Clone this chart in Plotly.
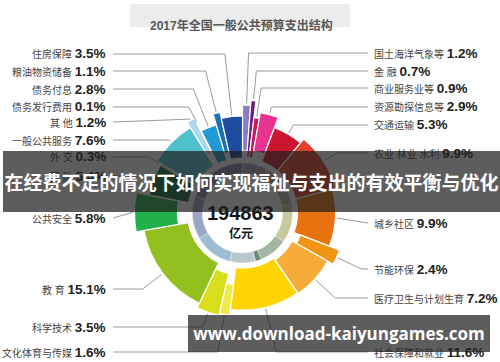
import numpy as np
import plotly.graph_objects as go

# ---------------- data ----------------
title_text = "2017年全国一般公共预算支出结构"
banner_text = "在经费不足的情况下如何实现福祉与支出的有效平衡与优化"
watermark_text = "www.download-kaiyungames.com"
total_value = "194863"
total_unit = "亿元"

categories = ["国土海洋气象等", "金 融", "商业服务业等", "资源勘探信息等", "交通运输",
              "农业 林业 水利", "城乡社区", "节能环保", "医疗卫生与计划生育", "社会保障和就业",
              "文化体育与传媒", "科学技术", "教 育", "公共安全", "国 防", "外 交",
              "一般公共服务", "其 他", "债务发行费用", "债务付息", "粮油物资储备", "住房保障"]
shares = [1.2, 0.7, 0.9, 2.9, 5.3, 9.9, 9.9, 2.4, 7.2, 11.6,
          1.6, 3.5, 15.1, 5.8, 5.4, 0.3, 7.6, 1.2, 0.1, 2.8, 1.1, 3.5]

ring_shares = [8.3, 13.9, 12.5, 9.2, 1.9, 8.3, 12.5, 13.9, 19.5]

# ---------------- style ----------------
colors = ["#8a7cc4", "#6d1f78", "#c21a5e", "#e8348c", "#cc1630",
          "#e5402c", "#e8720f", "#f29514", "#f7ac3a", "#ffd400",
          "#f0e94c", "#d8de1c", "#93c01f", "#22b04b", "#0d6b32", "#1d7a4a",
          "#4fc0cc", "#a9d8ef", "#7ab8d9", "#1f9ad6", "#1c6fb0", "#1b4c9f"]
outer_r = [108, 113, 96, 102, 91, 96, 93, 104, 98, 97,
           103, 105, 100, 108, 95, 95, 100, 106, 100, 92, 103, 97]
inner_r = [62, 56, 56, 63, 55, 55, 55, 62, 57, 55,
           72, 62, 55, 65, 55, 55, 55, 68, 55, 55, 62, 55]
ring_colors = ["#a99fb8", "#bcb8a2", "#c6c89f", "#a4b5a1", "#708b74",
               "#b9c7cd", "#9ebdd5", "#9ea6c6", "#8d84ab"]
label_y = [53, 71, 88, 107, 125, 153, 223, 269, 298, 352,
           352, 327, 289, 218, 176, 157, 140, 122, 107, 89, 71, 54]

W, H = 500, 362
CX, CY, R = 242.5, 213.0, 140.0
FONT = "Liberation Sans, Noto Sans CJK SC, sans-serif"

shares_a = np.array(shares)
widths = shares_a * 3.6
ends = np.cumsum(widths)
mids = ends - widths / 2

ring_a = np.array(ring_shares)
ring_w = ring_a / ring_a.sum() * 360
ring_mid = np.cumsum(ring_w) - ring_w / 2


def px(x, y):
    return x / W, 1 - y / H


def polar_px(r, th):
    t = np.radians(th)
    return CX + r * np.sin(t), CY - r * np.cos(t)


fig = go.Figure()
fig.add_trace(go.Barpolar(
    theta=mids, width=widths, base=inner_r,
    r=[o - i for o, i in zip(outer_r, inner_r)],
    marker=dict(color=colors, line=dict(color="white", width=1.2)),
    hoverinfo="skip", showlegend=False))
fig.add_trace(go.Barpolar(
    theta=ring_mid, width=ring_w, base=[40] * len(ring_w), r=[10] * len(ring_w),
    marker=dict(color=ring_colors, line=dict(color="white", width=0.4)),
    hoverinfo="skip", showlegend=False))

shapes = []
annotations = []

# title box
shapes.append(dict(type="rect", xref="paper", yref="paper", layer="below",
                   x0=130 / W, x1=350 / W, y0=1 - 27 / H, y1=1 - 4 / H,
                   fillcolor="#ececec", line=dict(width=0)))
annotations.append(dict(x=241 / W, y=1 - 16 / H, xref="paper", yref="paper",
                        text="<b>" + title_text + "</b>", showarrow=False,
                        font=dict(size=12, color="#585858", family=FONT)))

# leader lines and labels
for i, name in enumerate(categories):
    th = mids[i]
    left = th > 180
    ly = label_y[i]
    ex = 113 if left else 368
    ax, ay = polar_px(outer_r[i] + 1.5, th)
    c = np.cos(np.radians(th))
    rb = (CY - ly) / c if abs(c) > 1e-6 else 1e9
    if rb < outer_r[i] + 1.5 or rb > 170:
        bx, by = ax, ay
    else:
        bx, by = polar_px(rb, th)
        if (left and bx < ex + 4) or ((not left) and bx > ex - 4):
            bx, by = ax, ay
    pts = [px(ax, ay), px(bx, by), px(ex, ly)]
    path = "M {} {} L {} {} L {} {}".format(pts[0][0], pts[0][1], pts[1][0], pts[1][1],
                                          pts[2][0], pts[2][1])
    shapes.append(dict(type="path", xref="paper", yref="paper", path=path,
                       line=dict(color="#9a9a9a", width=1)))
    txt = ("<span style='color:#444'>{}</span> "
           "<span style='font-size:13.5px;color:#222'><b>{}%</b></span>").format(name, shares[i])
    annotations.append(dict(x=(108 if left else 372) / W, y=1 - ly / H,
                            xref="paper", yref="paper",
                            xanchor="right" if left else "left", yanchor="middle",
                            text=txt, showarrow=False,
                            font=dict(size=10, color="#444", family=FONT)))

# centre total
annotations.append(dict(x=240 / W, y=1 - 213 / H, xref="paper", yref="paper",
                        text="<b>" + total_value + "</b>", showarrow=False,
                        font=dict(size=20, color="#151515", family=FONT)))
annotations.append(dict(x=241 / W, y=1 - 233 / H, xref="paper", yref="paper",
                        text="<b>" + total_unit + "</b>", showarrow=False,
                        font=dict(size=12, color="#151515", family=FONT)))

# overlay banner
annotations.append(dict(x=3 / W, y=1 - 181.5 / H, xref="paper", yref="paper",
                        xanchor="left", yanchor="middle",
                        width=497, height=61, borderpad=0, borderwidth=0,
                        bgcolor="rgba(30,30,30,0.72)", align="center",
                        text="<b>" + banner_text + "</b>", showarrow=False,
                        font=dict(size=19, color="white", family="Noto Sans CJK SC, sans-serif")))
# watermark
annotations.append(dict(x=188 / W, y=1 - 333.5 / H, xref="paper", yref="paper",
                        xanchor="left", yanchor="middle",
                        width=302, height=37, borderpad=0, borderwidth=0,
                        bgcolor="rgba(30,30,30,0.72)", align="center",
                        text="<b>" + watermark_text + "</b>", showarrow=False,
                        font=dict(size=17, color="white", family="Open Sans, sans-serif")))

fig.update_layout(
    width=W, height=H, margin=dict(l=0, r=0, t=0, b=0),
    paper_bgcolor="white", plot_bgcolor="white", showlegend=False,
    font=dict(family=FONT),
    polar=dict(
        domain=dict(x=[(CX - R) / W, (CX + R) / W], y=[1 - (CY + R) / H, 1 - (CY - R) / H]),
        radialaxis=dict(range=[0, R], visible=False, showgrid=False),
        angularaxis=dict(rotation=90, direction="clockwise", visible=False, showgrid=False),
        bgcolor="rgba(0,0,0,0)", bargap=0, hole=0),
    shapes=shapes, annotations=annotations)

fig.write_html("out.html")
